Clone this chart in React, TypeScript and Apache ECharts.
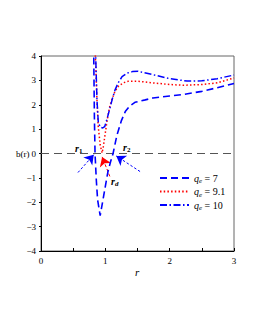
import React, { useEffect, useRef } from "react";
import * as echarts from "echarts";

const xTicks = [0, 1, 2, 3];
const yRange = [-4, 4];

const legendNames = ["qe = 7", "qe = 9.1", "qe = 10"];

const curveQe7: [number, number][] = [
  [0.8, 8], [0.82, 4], [0.83, 1.5], [0.84, 0], [0.86, -1.1], [0.88, -1.9], [0.92, -2.55],
  [0.96, -1.95], [1.0, -1.35], [1.04, -0.75], [1.08, -0.35], [1.12, 0], [1.18, 0.75],
  [1.25, 1.35], [1.31, 1.72], [1.38, 1.95], [1.46, 2.1], [1.62, 2.2], [1.74, 2.28],
  [2.0, 2.36], [2.21, 2.42], [2.5, 2.55], [2.74, 2.7], [3.0, 2.87],
];

const curveQe91: [number, number][] = [
  [0.83, 6], [0.845, 4], [0.87, 2.2], [0.89, 1.1], [0.92, 0.35], [0.95, 0.02], [0.97, 0.3],
  [1.0, 0.85], [1.03, 1.4], [1.07, 1.95], [1.1, 2.2], [1.15, 2.55], [1.2, 2.75], [1.28, 2.9],
  [1.35, 2.96], [1.5, 2.97], [1.73, 2.9], [2.0, 2.83], [2.21, 2.8], [2.5, 2.83],
  [2.74, 2.9], [3.0, 3.1],
];

const curveQe10: [number, number][] = [
  [0.83, 6], [0.85, 4], [0.87, 2.2], [0.89, 1.3], [0.92, 1.08], [0.96, 1.05], [0.99, 1.1],
  [1.03, 1.45], [1.07, 1.85], [1.11, 2.25], [1.15, 2.6], [1.2, 2.9], [1.26, 3.15],
  [1.34, 3.3], [1.42, 3.36], [1.51, 3.37], [1.6, 3.32], [1.73, 3.24], [2.0, 3.07],
  [2.27, 2.97], [2.5, 2.98], [2.74, 3.07], [3.0, 3.22],
];

const zeroLine: [number, number][] = [[0, 0], [3, 0]];

// pointer arrows: [from, to]
const pointerR1: [number, number][] = [[0.575, -0.78], [0.82, -0.05]];
const pointerR2: [number, number][] = [[1.54, -0.74], [1.17, -0.1]];
const pointerRd: [number, number][] = [[1.07, -0.94], [0.95, -0.14]];

const SERIF = "Liberation Serif";

export default function App() {
  const ref = useRef<HTMLDivElement>(null);
  useEffect(() => {
    if (!ref.current) return;
    const chart = echarts.init(ref.current, null, { renderer: "svg" });
    const richLegend = {
      q: { fontFamily: SERIF, fontStyle: "italic", fontSize: 10, color: "#000" },
      s: { fontFamily: SERIF, fontStyle: "italic", fontSize: 7, color: "#000", verticalAlign: "bottom", padding: [6, 0, 0, 0] },
      t: { fontFamily: SERIF, fontSize: 10, color: "#000" },
    };
    const subLabel = (main: string, sub: string, color: string, subItalic: boolean) => ({
      text: `{a|${main}}{b|${sub}}`,
      rich: {
        a: { fontFamily: SERIF, fontStyle: "italic", fontWeight: "bold", fontSize: 10, color },
        b: { fontFamily: SERIF, fontStyle: subItalic ? "italic" : "normal", fontWeight: "bold", fontSize: 7, color, verticalAlign: "bottom", padding: [6, 0, 0, 0] },
      },
    });
    chart.setOption({
      animation: false,
      grid: { left: 41, right: 21, top: 56, bottom: 79, show: true, borderColor: "#666", borderWidth: 1 },
      xAxis: {
        type: "value",
        min: xTicks[0],
        max: xTicks[xTicks.length - 1],
        interval: 1,
        axisLine: { show: true, onZero: false, lineStyle: { color: "#000", width: 1 } },
        axisTick: { show: true, inside: true, length: 3, lineStyle: { color: "#000" } },
        minorTick: { show: true, splitNumber: 2, length: 3, lineStyle: { color: "#000" } },
        splitLine: { show: false },
        axisLabel: { fontFamily: SERIF, fontSize: 9, color: "#000", margin: 5 },
      },
      yAxis: {
        type: "value",
        min: yRange[0],
        max: yRange[1],
        interval: 1,
        axisLine: { show: true, onZero: false, lineStyle: { color: "#000", width: 1 } },
        axisTick: { show: true, inside: false, length: 2, lineStyle: { color: "#000" } },
        splitLine: { show: false },
        axisLabel: {
          fontFamily: SERIF, fontSize: 9, color: "#000", margin: 5,
          formatter: (v: number) => String(v).replace("-", "\u2212"),
        },
      },
      legend: {
        orient: "vertical",
        left: 154,
        top: 168,
        itemWidth: 29,
        itemHeight: 8,
        itemGap: 2,
        itemStyle: { opacity: 0 },
        data: legendNames,
        formatter: (name: string) => {
          const val = name.split("= ")[1];
          return `{q|q}{s|e}{t| = ${val}}`;
        },
        textStyle: { rich: richLegend, padding: [0, 0, 0, 0] },
      },
      series: [
        {
          type: "line", data: zeroLine, symbol: "none", silent: true,
          lineStyle: { color: "#555", width: 1, type: [8, 5] },
        },
        {
          name: legendNames[0], type: "line", data: curveQe7, symbol: "none", clip: true,
          lineStyle: { color: "#0000ff", width: 1.6, type: [7, 4] },
          itemStyle: { color: "#0000ff" },
        },
        {
          name: legendNames[1], type: "line", data: curveQe91, symbol: "none", clip: true,
          lineStyle: { color: "#ff0000", width: 1.5, type: [1.5, 2.2] },
          itemStyle: { color: "#ff0000" },
        },
        {
          name: legendNames[2], type: "line", data: curveQe10, symbol: "none", clip: true,
          lineStyle: { color: "#0000ff", width: 1.5, type: [7, 2.5, 1.5, 2.5] },
          itemStyle: { color: "#0000ff" },
        },
        {
          type: "lines", coordinateSystem: "cartesian2d", silent: true,
          symbol: ["none", "arrow"], symbolSize: 9,
          lineStyle: { color: "#0000ff", width: 1, type: [2.5, 2], opacity: 1 },
          data: [{ coords: pointerR1 }, { coords: pointerR2 }],
        },
        {
          type: "lines", coordinateSystem: "cartesian2d", silent: true,
          symbol: ["none", "arrow"], symbolSize: 9,
          lineStyle: { color: "#ff0000", width: 1, type: [3, 2], opacity: 1 },
          data: [{ coords: pointerRd }],
        },
      ],
      graphic: [
        {
          type: "text", left: 16, top: 149,
          style: { text: "b(r)", fontFamily: SERIF, fontSize: 9, fill: "#000" },
        },
        {
          type: "text", left: 135, top: 266,
          style: { text: "r", fontFamily: SERIF, fontStyle: "italic", fontSize: 11, fill: "#000" },
        },
        { type: "text", left: 75, top: 143, style: subLabel("r", "1", "#000", false) },
        { type: "text", left: 123, top: 142, style: subLabel("r", "2", "#000", false) },
        { type: "text", left: 111, top: 176, style: subLabel("r", "d", "#ff0000", true) },
      ],
    });
    return () => chart.dispose();
  }, []);
  return <div ref={ref} style={{ width: 255, height: 330, position: "absolute", left: 0, top: 0 }} />;
}
